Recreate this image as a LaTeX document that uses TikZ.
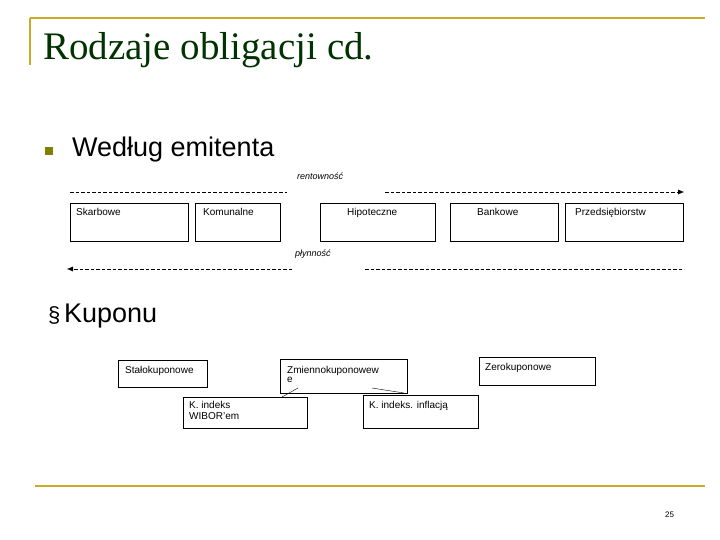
\documentclass[tikz,border=0pt]{standalone}
\usepackage{fontspec}
\usetikzlibrary{arrows.meta}
\setsansfont{Liberation Sans}
\setmainfont{Liberation Serif}
\begin{document}
\begin{tikzpicture}[x=1pt,y=-1pt,
 t/.style={font=\sffamily\fontsize{10}{11}\selectfont,anchor=north west,inner sep=0pt},
 dl/.style={dashed,dash pattern=on 3.5pt off 2pt,thin},
 tip/.style={-{Latex[length=6pt,width=5pt]}}]
\useasboundingbox (0,0) rectangle (720,540);
\definecolor{gold}{RGB}{204,170,40}
\definecolor{olive}{RGB}{128,128,0}
\draw[gold,line width=1.5pt] (30,18) -- (705,18);
\draw[gold,line width=1.5pt] (30,18) -- (30,65);
\draw[gold,line width=1.5pt] (35,486) -- (705,486);
\node[anchor=west,inner sep=0pt,font=\fontsize{39}{42}\selectfont,text=black!80!green] (title) at (43,50) {Rodzaje obligacji cd.};
\node[fill=olive,minimum size=8pt,inner sep=0pt] (b1) at (49,151) {};
\node[anchor=west,inner sep=0pt,font=\sffamily\fontsize{27}{30}\selectfont] (w) at (72,150) {Według emitenta};
% boxes
\draw[thin] (70,203) rectangle (188,241) node[pos=0,t,shift={(6,5)}] (s) {Skarbowe};
\draw[thin] (195,203) rectangle (280,241) node[pos=0,t,shift={(8,5)}] (k) {Komunalne};
\draw[thin] (320,203) rectangle (435,241) node[pos=0,t,shift={(27,5)}] (h) {Hipoteczne};
\draw[thin] (450,203) rectangle (558,241) node[pos=0,t,shift={(27,5)}] (bk) {Bankowe};
\draw[thin] (565,203) rectangle (683,241) node[pos=0,t,shift={(10,5)}] (p) {Przedsiębiorstw};
\node[t,font=\sffamily\itshape\fontsize{9}{10}\selectfont] (r) at (297,173) {rentowność};
\node[t,font=\sffamily\itshape\fontsize{9}{10}\selectfont] (pl) at (295,250) {płynność};
\coordinate (a1) at (70,192); \coordinate (a2) at (287,192);
\coordinate (a3) at (385,192); \coordinate (a4) at (684,192);
\draw[dl] (a1) -- (a2);
\draw[dl,tip] (a3) -- (a4);
\coordinate (c1) at (67,269); \coordinate (c2) at (292,269);
\coordinate (c3) at (365,269); \coordinate (c4) at (684,269);
\draw[dl,tip] (c2) -- (c1);
\draw[dl] (c3) -- (c4);
\node[anchor=west,inner sep=0pt,font=\sffamily\fontsize{27}{30}\selectfont] (ku) at (48,316) {\fontsize{22}{24}\selectfont§\,\fontsize{27}{30}\selectfont Kuponu};
% coupon boxes
\draw[thin] (118,360) rectangle (207,387) node[pos=0,t,shift={(7,6)}] (st) {Stałokuponowe};
\draw[thin] (280,359) rectangle (407,393) node[pos=0,t,shift={(7,7)},align=left] (zm) {Zmiennokuponowew\\[-2pt]e};
\draw[thin] (479,357) rectangle (595,385) node[pos=0,t,shift={(6,6)}] (ze) {Zerokuponowe};
\draw[thin] (183,397) rectangle (307,428) node[pos=0,t,shift={(6,4)},align=left] (wi) {K. indeks\\WIBOR'em};
\draw[thin] (363,395) rectangle (478,428) node[pos=0,t,shift={(6,6)}] (in) {K. indeks. inflacją};
\coordinate (l1) at (282,397); \coordinate (l2) at (298,388);
\coordinate (l3) at (372,388); \coordinate (l4) at (404,393);
\draw[thin] (l1) -- (l2);
\draw[thin] (l3) -- (l4);
\node[t,font=\sffamily\fontsize{8}{9}\selectfont] (pg) at (665,512) {25};
\end{tikzpicture}
\end{document}
